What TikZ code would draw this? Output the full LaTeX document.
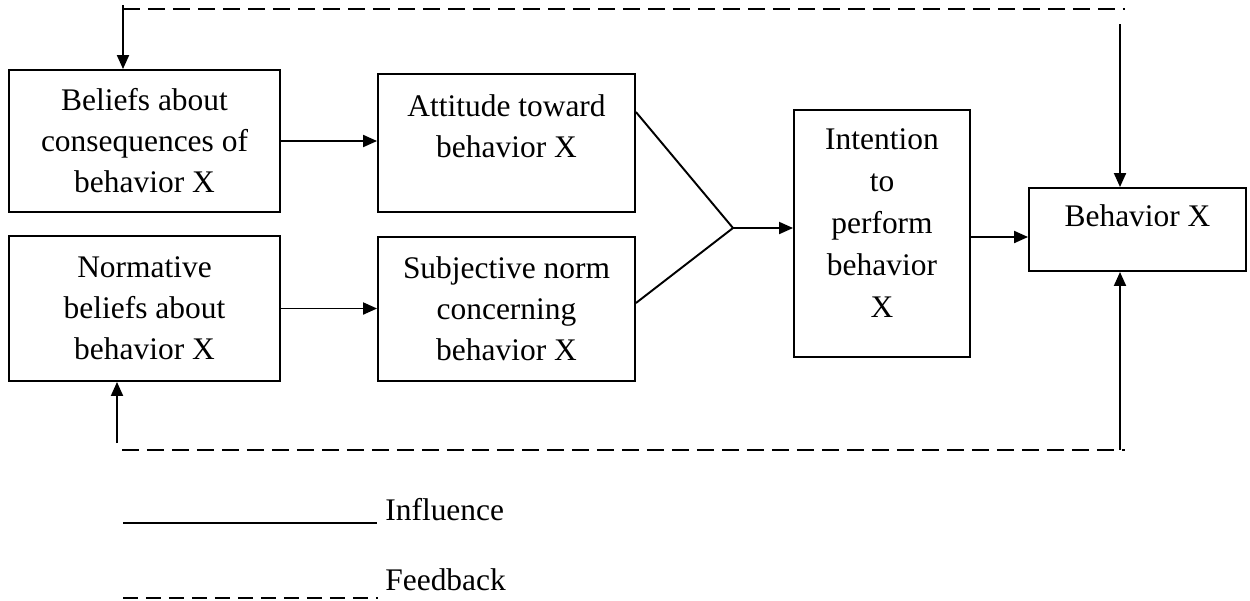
\documentclass[tikz,border=0pt]{standalone}
\usepackage{fontspec}
\setmainfont{Liberation Serif}
\usetikzlibrary{arrows.meta}

\begin{document}
\begin{tikzpicture}[x=0.02cm, y=-0.02cm,
    every node/.style={font=\fontsize{17.9}{23.3}\selectfont},
    box/.style={draw, line width=1.1pt, inner sep=0pt, align=center},
    lbl/.style={anchor=north, inner sep=0pt, align=center},
    flow/.style={line width=1.1pt, -{Triangle[length=0.28cm, width=0.24cm]}},
    fback/.style={line width=1.1pt, dash pattern=on 0.34cm off 0.16cm}]
\useasboundingbox (0,0) rectangle (1250,600);

% boxes
\node[box, minimum width=5.42cm, minimum height=2.84cm] (cons) at (144.5,141) {Beliefs about\\consequences of\\behavior X};
\node[box, minimum width=5.42cm, minimum height=2.9cm] (norm) at (144.5,308.5) {Normative\\beliefs about\\behavior X};
\node[box, minimum width=5.14cm, minimum height=2.76cm,
  label={[lbl, yshift=-0.43cm]north:{Attitude toward\\behavior X}}] (att) at (506.5,143) {};
\node[box, minimum width=5.14cm, minimum height=2.88cm] (subj) at (506.5,309) {Subjective norm\\concerning\\behavior X};
\node[box, minimum width=3.52cm, minimum height=4.94cm,
  label={[lbl, yshift=-0.38cm, font=\fontsize{17.9}{23.9}\selectfont]north:{Intention\\to\\perform\\behavior\\X}}] (int) at (882,233.5) {};
\node[box, minimum width=4.34cm, minimum height=1.66cm,
  label={[lbl, yshift=-0.35cm]north:Behavior X}] (beh) at (1137.5,229.5) {};

% influence
\coordinate (m) at (733,228);
\draw[flow] (cons.east) -- (cons.east -| att.west);
\draw[flow] (norm.east) -- (norm.east -| subj.west);
\draw[line width=1.1pt] ([yshift=0.62cm]att.east) -- (m) -- ([yshift=0.12cm]subj.east);
\draw[flow] (m) -- (m -| int.west);
\path ([yshift=-0.07cm]int.east) coordinate (io);
\draw[flow] (io) -- (io -| beh.west);

% feedback
\coordinate (ftl) at (123,9);
\coordinate (ftr) at (1125,9);
\coordinate (fbl) at (122,450);
\coordinate (fbr) at (1125,450);
\coordinate (tin) at (123,5);
\coordinate (rin) at (1120,24);
\coordinate (lin) at (117,443);
\coordinate (rout) at (1120,450);
\draw[fback] (ftl) -- (ftr);
\draw[fback] (fbl) -- (fbr);
\draw[flow] (tin) -- (cons.north -| tin);
\draw[flow] (rin) -- (beh.north -| rin);
\draw[flow] (lin) -- (norm.south -| lin);
\draw[flow] (rout) -- (beh.south -| rout);

% legend
\node[anchor=base west, inner sep=0pt] (infl) at (385,520) {Influence};
\node[anchor=base west, inner sep=0pt] (feed) at (385,590) {Feedback};
\draw[line width=1.1pt] (123,523) -- (377,523);
\draw[line width=1.1pt, dash pattern=on 0.3cm off 0.16cm] (123,598) -- (378,598);

\end{tikzpicture}
\end{document}
